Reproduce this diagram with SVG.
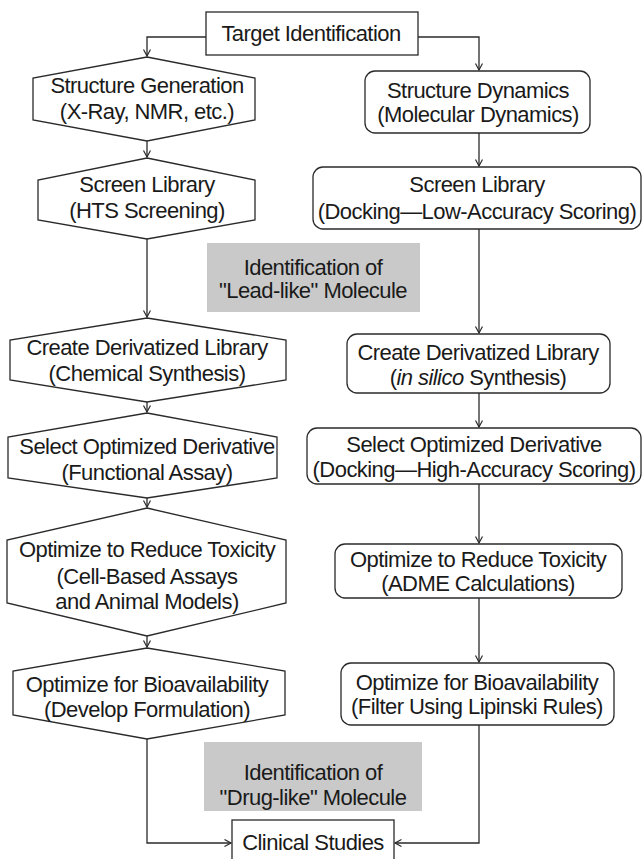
<svg xmlns="http://www.w3.org/2000/svg" width="644" height="859" viewBox="0 0 644 859">
<style>
  .bg{fill:#ffffff}
  .node{fill:#ffffff;stroke:#2a2a2a;stroke-width:1.3}
  .note{fill:#c9c9c9;stroke:none}
  .t{font-family:"Liberation Sans",Arial,sans-serif;font-size:22px;letter-spacing:-0.55px;fill:#1a1a1a;text-anchor:middle}
  .c{fill:none;stroke:#2a2a2a;stroke-width:1.3}
</style>
<defs>
  <marker id="arr" markerUnits="userSpaceOnUse" markerWidth="10" markerHeight="10" refX="7" refY="4" orient="auto">
    <path d="M0.5,0.5 L7,4 L0.5,7.5" fill="none" stroke="#2a2a2a" stroke-width="1.2"/>
  </marker>
</defs>
<rect class="bg" x="0" y="0" width="644" height="859"/>

<g id="connectors">
  <polyline class="c" points="206,37 147,37 147,56" marker-end="url(#arr)"/>
  <polyline class="c" points="418,37 479,37 479,70" marker-end="url(#arr)"/>
  <line class="c" x1="147" y1="141" x2="147" y2="157" marker-end="url(#arr)"/>
  <line class="c" x1="147" y1="239" x2="147" y2="317" marker-end="url(#arr)"/>
  <line class="c" x1="147" y1="402" x2="147" y2="412" marker-end="url(#arr)"/>
  <line class="c" x1="147" y1="498" x2="147" y2="507" marker-end="url(#arr)"/>
  <line class="c" x1="147" y1="636" x2="147" y2="647" marker-end="url(#arr)"/>
  <polyline class="c" points="147,739 147,843 231,843" marker-end="url(#arr)"/>
  <line class="c" x1="479" y1="133" x2="479" y2="166" marker-end="url(#arr)"/>
  <line class="c" x1="479" y1="229" x2="479" y2="333" marker-end="url(#arr)"/>
  <line class="c" x1="479" y1="393" x2="479" y2="427" marker-end="url(#arr)"/>
  <line class="c" x1="479" y1="484" x2="479" y2="543" marker-end="url(#arr)"/>
  <line class="c" x1="479" y1="598" x2="479" y2="662" marker-end="url(#arr)"/>
  <polyline class="c" points="479,725 479,843 395,843" marker-end="url(#arr)"/>
</g>

<g id="target">
  <rect class="node" x="206" y="12" width="212" height="43"/>
  <text class="t" x="311" y="41">Target Identification</text>
</g>

<g id="structure-generation">
  <polygon class="node" points="147,57 255,78 255,120 147,141 33,120 33,78"/>
  <text class="t" x="147" y="93">Structure Generation</text>
  <text class="t" x="147" y="119">(X-Ray, NMR, etc.)</text>
</g>
<g id="screen-library-hts">
  <polygon class="node" points="147,158 255,180 255,220 147,239 38,220 38,180"/>
  <text class="t" x="147" y="192">Screen Library</text>
  <text class="t" x="147" y="218">(HTS Screening)</text>
</g>
<g id="create-lib-chem">
  <polygon class="node" points="147,318 286,340 286,380 147,402 10,380 10,340"/>
  <text class="t" x="147" y="355">Create Derivatized Library</text>
  <text class="t" x="147" y="381">(Chemical Synthesis)</text>
</g>
<g id="select-functional">
  <polygon class="node" points="147,413 277,437 277,478 147,498 8,478 8,437"/>
  <text class="t" x="147" y="454">Select Optimized Derivative</text>
  <text class="t" x="147" y="480">(Functional Assay)</text>
</g>
<g id="toxicity-cell">
  <polygon class="node" points="147,508 286,540 286,603 147,636 7,603 7,540"/>
  <text class="t" x="147" y="557">Optimize to Reduce Toxicity</text>
  <text class="t" x="147" y="584">(Cell-Based Assays</text>
  <text class="t" x="147" y="609">and Animal Models)</text>
</g>
<g id="bioavail-formulation">
  <polygon class="node" points="147,648 285,671 285,715 147,739 13,715 13,671"/>
  <text class="t" x="147" y="692">Optimize for Bioavailability</text>
  <text class="t" x="147" y="717">(Develop Formulation)</text>
</g>

<g id="structure-dynamics">
  <rect class="node" x="365" y="71" width="225" height="62" rx="10"/>
  <text class="t" x="478" y="98">Structure Dynamics</text>
  <text class="t" x="478" y="122">(Molecular Dynamics)</text>
</g>
<g id="screen-library-docking">
  <rect class="node" x="313" y="167" width="328" height="62" rx="10"/>
  <text class="t" x="477" y="192">Screen Library</text>
  <text class="t" x="477" y="219">(Docking—Low-Accuracy Scoring)</text>
</g>
<g id="create-lib-insilico">
  <rect class="node" x="347" y="334" width="263" height="59" rx="10"/>
  <text class="t" x="478" y="360">Create Derivatized Library</text>
  <text class="t" x="478" y="385">(<tspan font-style="italic">in silico</tspan> Synthesis)</text>
</g>
<g id="select-docking">
  <rect class="node" x="307" y="428" width="334" height="56" rx="10"/>
  <text class="t" x="474" y="452">Select Optimized Derivative</text>
  <text class="t" x="474" y="477">(Docking—High-Accuracy Scoring)</text>
</g>
<g id="toxicity-adme">
  <rect class="node" x="335" y="544" width="287" height="54" rx="10"/>
  <text class="t" x="478" y="567">Optimize to Reduce Toxicity</text>
  <text class="t" x="478" y="591">(ADME Calculations)</text>
</g>
<g id="bioavail-lipinski">
  <rect class="node" x="341" y="663" width="273" height="62" rx="10"/>
  <text class="t" x="477" y="690">Optimize for Bioavailability</text>
  <text class="t" x="477" y="714">(Filter Using Lipinski Rules)</text>
</g>

<g id="lead-like">
  <rect class="note" x="207" y="243" width="213" height="69"/>
  <text class="t" x="313" y="275">Identification of</text>
  <text class="t" x="313" y="298">"Lead-like" Molecule</text>
</g>
<g id="drug-like">
  <rect class="note" x="204" y="742" width="218" height="69"/>
  <text class="t" x="313" y="780">Identification of</text>
  <text class="t" x="313" y="805">"Drug-like" Molecule</text>
</g>

<g id="clinical">
  <rect class="node" x="232" y="820" width="162" height="50"/>
  <text class="t" x="313" y="850">Clinical Studies</text>
</g>
</svg>
